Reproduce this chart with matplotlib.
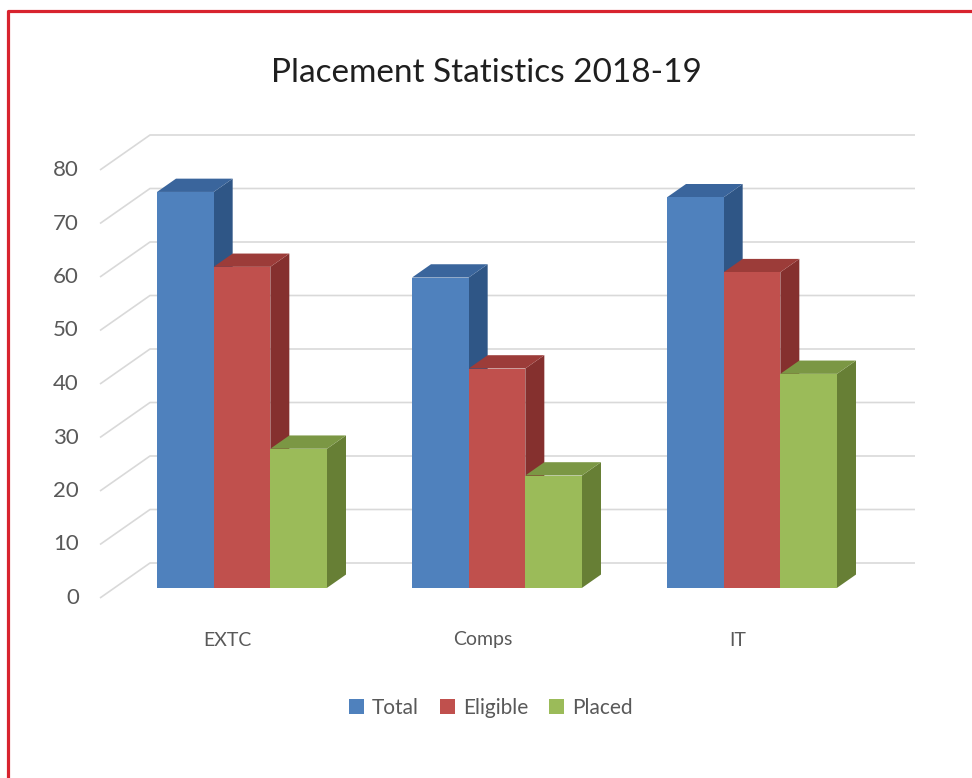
import matplotlib.pyplot as plt
from matplotlib.patches import Polygon, Patch
from matplotlib.lines import Line2D

plt.rcParams['font.family'] = ['Lato', 'DejaVu Sans']

# Data
categories = ['EXTC', 'Comps', 'IT']
series = ['Total', 'Eligible', 'Placed']
total = [74, 58, 73]
eligible = [60, 41, 59]
placed = [26, 21, 40]
values = [total, eligible, placed]
yticks = [0, 10, 20, 30, 40, 50, 60, 70, 80]

# face colours (front, top, side)
front_cols = ['#4F81BD', '#C0504D', '#9BBB59']
top_cols = ['#3A659C', '#9C3C39', '#7B9744']
side_cols = ['#2F5686', '#85302E', '#677F35']

W, H = 972, 778
fig = plt.figure(figsize=(W / 100, H / 100), dpi=100)
ax = fig.add_axes([0, 0, 1, 1])
ax.set_axis_off()

# pixel layout of the front plane: category width 255 px, 5.35 px per unit
x0_px, y0_px, cat_px, unit_px = 100, 598, 255, 5.35
ax.set_xlim((0 - x0_px) / cat_px - 0.5, (W - x0_px) / cat_px - 0.5)
ax.set_ylim((y0_px - H) / unit_px, y0_px / unit_px)

# full depth of the 3d box in data units
DX = 50 / cat_px
DY = 35 / unit_px
n = len(categories)

# gridlines: floor-to-wall diagonal + back wall
for v in yticks:
    ax.plot([-0.5, -0.5 + DX, n - 0.5 + DX], [v, v + DY, v + DY],
            color='#D9D9D9', lw=1.2, zorder=1, solid_capstyle='butt')
    ax.annotate(str(v), (-0.5, v), xytext=(-21, 0), textcoords='offset pixels',
                ha='right', va='center', fontsize=16, color='#595959')

# 3d bars
gap = 1.5
bw = 1 / (len(series) + gap)
d0, d1 = 0.29, 0.67
for i in range(n):
    for s in range(len(series)):
        v = values[s][i]
        xl = i - 1.5 * bw + s * bw + d0 * DX
        xr = xl + bw
        yb = d0 * DY
        ox, oy = (d1 - d0) * DX, (d1 - d0) * DY
        side = [(xr, yb), (xr + ox, yb + oy), (xr + ox, yb + oy + v), (xr, yb + v)]
        top = [(xl, yb + v), (xr, yb + v), (xr + ox, yb + oy + v), (xl + ox, yb + oy + v)]
        front = [(xl, yb), (xr, yb), (xr, yb + v), (xl, yb + v)]
        z = 2 + i * 3 + s
        ax.add_patch(Polygon(side, closed=True, fc=side_cols[s], ec='none', zorder=z))
        ax.add_patch(Polygon(top, closed=True, fc=top_cols[s], ec='none', zorder=z))
        ax.add_patch(Polygon(front, closed=True, fc=front_cols[s], ec='none', zorder=z))

for i, c in enumerate(categories):
    ax.annotate(c, (i, 0), xytext=(0, -42), textcoords='offset pixels',
                ha='center', va='center', fontsize=14, color='#595959')

fig.text(0.5, 1 - 73 / H, 'Placement Statistics 2018-19', ha='center', va='center',
         fontsize=24, color='#1F1F1F')

handles = [Patch(fc=front_cols[s], ec='none') for s in range(len(series))]
fig.legend(handles, series, loc='center', bbox_to_anchor=(0.505, 1 - 708 / H), ncol=3,
           frameon=False, fontsize=15, handlelength=0.7, handleheight=0.7,
           handletextpad=0.4, columnspacing=1.0, labelcolor='#595959')

# red frame (left and top edges)
fig.add_artist(Line2D([7.5 / W, 7.5 / W, 1], [0, 1 - 11 / H, 1 - 11 / H],
                      transform=fig.transFigure, color='#D8232E', lw=2.3))

fig.savefig('out.png', dpi=100)
